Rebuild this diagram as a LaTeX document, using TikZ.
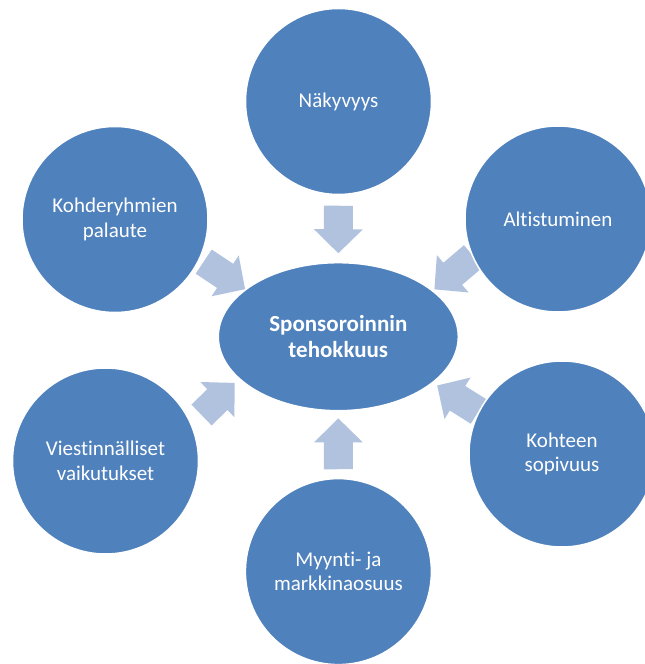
\documentclass[tikz,border=0pt]{standalone}
\usepackage{fontspec}
\setmainfont{Carlito}[Ligatures=NoCommon]
\usepackage{tikz}
\usetikzlibrary{shapes.geometric,calc,backgrounds}
\definecolor{circblue}{HTML}{4F81BD}
\definecolor{arrowblue}{HTML}{B0C2DE}

\newcommand{\flowarrow}[6]{%
  \coordinate (fa-s) at ($(#1.#2)!#3!(#4.#5)$);
  \coordinate (fa-e) at ($(#4.#5)!#6!(#1.#2)$);
  \fill[arrowblue] ($(fa-s)!14.5pt!90:(fa-e)$)
    -- ($(fa-e)!24pt!(fa-s)!14.5pt!90:(fa-e)$)
    -- ($(fa-e)!24pt!(fa-s)!24.5pt!90:(fa-e)$)
    -- (fa-e)
    -- ($(fa-e)!24pt!(fa-s)!24.5pt!270:(fa-e)$)
    -- ($(fa-e)!24pt!(fa-s)!14.5pt!270:(fa-e)$)
    -- ($(fa-s)!14.5pt!270:(fa-e)$) -- cycle;}

\begin{document}
\begin{tikzpicture}[x=1pt,y=1pt,
  bubble/.style={circle,fill=circblue,draw=white,line width=1.5pt,minimum size=186pt,
    inner sep=0pt,text=white,align=center,font=\fontsize{21}{24.5}\selectfont},
  hub/.style={ellipse,fill=circblue,draw=white,line width=1.5pt,minimum width=240pt,
    minimum height=148pt,inner sep=0pt,text=white,align=center,
    font=\fontsize{23}{26.5}\selectfont\bfseries}]
\useasboundingbox (0,0) rectangle (645,664);

\node[hub] (teho) at (338.3,327.3) {Sponsoroinnin\\tehokkuus};
\node[bubble] (nak) at (338.5,562.5) {Näkyvyys};
\node[bubble] (alt) at (558,445) {Altistuminen};
\node[bubble] (koh) at (562,210) {Kohteen\\sopivuus};
\node[bubble] (myy) at (338.4,92.4) {Myynti- ja\\markkinaosuus};
\node[bubble] (vie) at (105.5,203) {Viestinnälliset\\vaikutukset};
\node[bubble] (kde) at (115,444.5) {Kohderyhmien\\palaute};

\begin{scope}[on background layer]
\flowarrow{nak}{270}{10.5pt}{teho}{90}{8.7pt}
\flowarrow{alt}{204}{-1.3pt}{teho}{26}{1.7pt}
\flowarrow{koh}{153.2}{0pt}{teho}{-26.1}{4.8pt}
\flowarrow{myy}{90}{8.6pt}{teho}{270}{7pt}
\flowarrow{vie}{23.9}{13.5pt}{teho}{203.5}{5.7pt}
\flowarrow{kde}{-25.8}{4.5pt}{teho}{153.4}{0pt}
\end{scope}
\end{tikzpicture}
\end{document}
